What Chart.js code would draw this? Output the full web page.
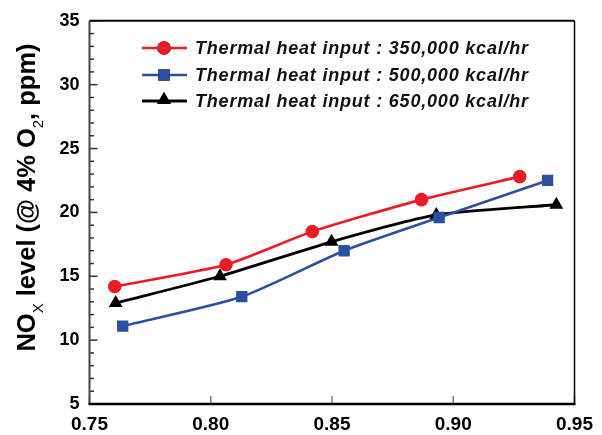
<!DOCTYPE html>
<html>
<head>
<meta charset="utf-8">
<script src="https://cdn.jsdelivr.net/npm/chart.js@4.4.1/dist/chart.umd.min.js"></script>
<style>
  html, body { margin: 0; padding: 0; background: #fff; }
  #wrap { width: 602px; height: 435px; }
</style>
</head>
<body>
<div id="wrap"><canvas id="noxChart" width="602" height="435"></canvas></div>
<script>
// values
const xTicks = [0.75, 0.80, 0.85, 0.90, 0.95];
const yTicks = [5, 10, 15, 20, 25, 30, 35];

const seriesLabels = [
  "Thermal heat input : 350,000 kcal/hr",
  "Thermal heat input : 500,000 kcal/hr",
  "Thermal heat input : 650,000 kcal/hr"
];

const x350 = [0.7604, 0.8063, 0.8419, 0.8869, 0.9274];
const y350 = [14.2, 15.9, 18.5, 21.0, 22.8];

const x500 = [0.7637, 0.8128, 0.8550, 0.8942, 0.9389];
const y500 = [11.1, 13.4, 17.0, 19.6, 22.5];

const x650 = [0.7608, 0.8038, 0.8498, 0.8930, 0.9425];
const y650 = [12.9, 15.0, 17.7, 19.8, 20.6];

const RED = '#ec1c24';
const BLUE = '#2b4fa3';
const BLACK = '#000000';

function toPoints(xs, ys) {
  return xs.map((x, i) => ({ x: x, y: ys[i] }));
}

// frame, inward ticks, legend and the y title with subscripts
const decorPlugin = {
  id: 'decor',
  afterDraw(chart) {
    const ctx = chart.ctx;
    const a = chart.chartArea;
    const xs = chart.scales.x;
    const ys = chart.scales.y;
    ctx.save();

    // y minor + major ticks (inward)
    ctx.strokeStyle = '#333';
    ctx.lineWidth = 1.5;
    for (let v = yTicks[0]; v <= yTicks[yTicks.length - 1]; v++) {
      const py = ys.getPixelForValue(v);
      const len = (v % 5 === 0) ? 8 : 4.5;
      ctx.beginPath();
      ctx.moveTo(a.left, py);
      ctx.lineTo(a.left + len, py);
      ctx.stroke();
    }
    // x ticks (inward, grey)
    ctx.strokeStyle = '#808080';
    ctx.lineWidth = 1.5;
    xTicks.forEach(v => {
      const px = xs.getPixelForValue(v);
      ctx.beginPath();
      ctx.moveTo(px, a.bottom);
      ctx.lineTo(px, a.bottom - 8);
      ctx.stroke();
    });

    // frame
    ctx.strokeStyle = '#000';
    ctx.lineWidth = 2;
    ctx.beginPath(); ctx.moveTo(a.left, a.top); ctx.lineTo(a.right, a.top); ctx.stroke();
    ctx.lineWidth = 1.5;
    ctx.beginPath(); ctx.moveTo(a.right, a.top); ctx.lineTo(a.right, a.bottom); ctx.stroke();
    ctx.strokeStyle = '#444';
    ctx.lineWidth = 2;
    ctx.beginPath(); ctx.moveTo(a.left, a.top); ctx.lineTo(a.left, a.bottom); ctx.stroke();
    ctx.strokeStyle = '#000';
    ctx.lineWidth = 2.5;
    ctx.beginPath(); ctx.moveTo(a.left - 1, a.bottom); ctx.lineTo(a.right + 1, a.bottom); ctx.stroke();

    // legend
    const rowsY = [48, 75, 101];
    chart.data.datasets.forEach((ds, i) => {
      const y = rowsY[i];
      ctx.strokeStyle = ds.borderColor;
      ctx.lineWidth = ds.borderWidth;
      ctx.beginPath();
      ctx.moveTo(142, y);
      ctx.lineTo(187, y);
      ctx.stroke();
      Chart.helpers.drawPoint(ctx, {
        pointStyle: ds.pointStyle,
        radius: ds.pointRadius,
        rotation: 0,
        borderWidth: 0
      }, 164, ds.pointStyle === 'triangle' ? y - 1 : y);
      ctx.fillStyle = ds.pointBackgroundColor;
      ctx.fill();
      ctx.fillStyle = '#111';
      ctx.font = 'italic bold 18px "Liberation Sans", Arial, sans-serif';
      ctx.letterSpacing = '0.8px';
      ctx.textAlign = 'left';
      ctx.textBaseline = 'middle';
      ctx.fillText(ds.label, 195, y + 1);
      ctx.letterSpacing = '0px';
    });

    // y axis title with subscripts
    const parts = [
      ['NO', false], ['X', true], [' level (@ 4% O', false], ['2', true], [', ppm)', false]
    ];
    const big = 'bold 25.5px "Liberation Sans", Arial, sans-serif';
    const small = '15px "Liberation Sans", Arial, sans-serif';
    let total = 0;
    parts.forEach(p => { ctx.font = p[1] ? small : big; total += ctx.measureText(p[0]).width; });
    ctx.translate(26, 197.5);
    ctx.rotate(-Math.PI / 2);
    ctx.fillStyle = '#000';
    ctx.textAlign = 'left';
    ctx.textBaseline = 'alphabetic';
    let cx = -total / 2;
    parts.forEach(p => {
      ctx.font = p[1] ? small : big;
      ctx.fillText(p[0], cx, p[1] ? 17 : 9);
      cx += ctx.measureText(p[0]).width;
    });

    ctx.restore();
  }
};

function makeDataset(label, xs, ys, color, style, radius, width) {
  return {
    label: label,
    data: toPoints(xs, ys),
    borderColor: color,
    backgroundColor: color,
    pointBackgroundColor: color,
    pointBorderColor: color,
    pointBorderWidth: 0,
    pointStyle: style,
    pointRadius: radius,
    pointHoverRadius: radius,
    borderWidth: width,
    tension: 0.2,
    fill: false
  };
}

new Chart(document.getElementById('noxChart'), {
  type: 'line',
  data: {
    datasets: [
      makeDataset(seriesLabels[0], x350, y350, RED, 'circle', 6.8, 2.6),
      makeDataset(seriesLabels[1], x500, y500, BLUE, 'rect', 8, 2.6),
      makeDataset(seriesLabels[2], x650, y650, BLACK, 'triangle', 8, 2.8)
    ]
  },
  options: {
    responsive: false,
    animation: false,
    layout: { padding: { top: 18, right: 25, left: 0, bottom: 0 } },
    plugins: {
      legend: { display: false },
      tooltip: { enabled: false }
    },
    scales: {
      x: {
        type: 'linear',
        min: 0.75,
        max: 0.95,
        afterBuildTicks: (s) => { s.ticks = xTicks.map(v => ({ value: v })); },
        afterFit: (s) => { s.height = 31; },
        grid: { display: false, drawTicks: false },
        border: { display: false },
        ticks: {
          padding: 9,
          color: '#000',
          font: { family: '"Liberation Sans Narrow", "Liberation Sans", Arial', size: 19, weight: 'bold' },
          callback: (v) => Number(v).toFixed(2),
          maxRotation: 0
        }
      },
      y: {
        type: 'linear',
        min: 5,
        max: 35,
        afterBuildTicks: (s) => { s.ticks = yTicks.map(v => ({ value: v })); },
        afterFit: (s) => { s.width = 89.5; },
        grid: { display: false, drawTicks: false },
        border: { display: false },
        ticks: {
          padding: 10,
          color: '#000',
          font: { family: '"Liberation Sans Narrow", "Liberation Sans", Arial', size: 18, weight: 'bold' }
        }
      }
    }
  },
  plugins: [decorPlugin]
});
</script>
</body>
</html>
